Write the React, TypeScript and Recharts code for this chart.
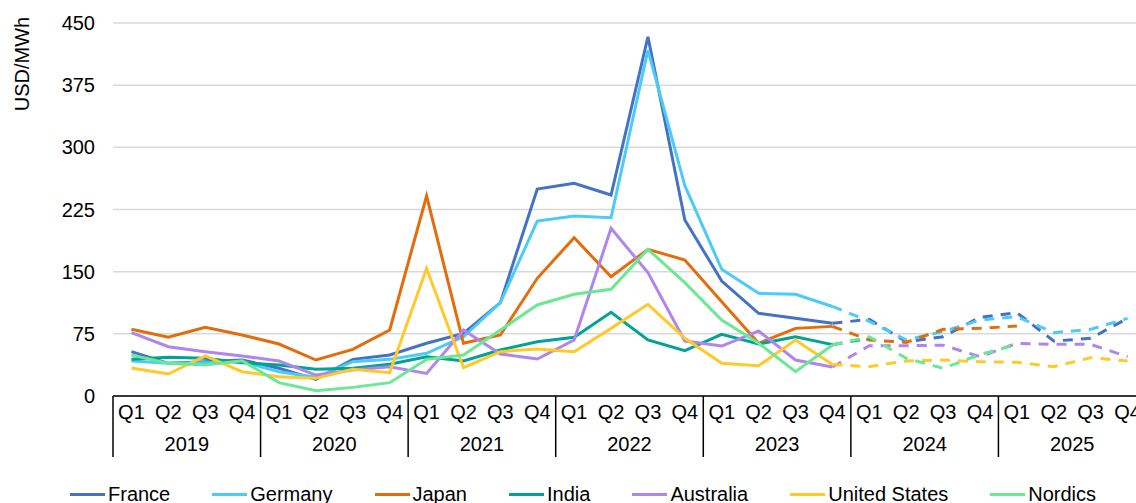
import React from "react";
import { LineChart, Line, CartesianGrid, XAxis, YAxis } from "recharts";

// quarterly wholesale prices, USD/MWh (2024-2025 = forecast)
const years = ["2019", "2020", "2021", "2022", "2023", "2024", "2025"];
const quarters = ["Q1", "Q2", "Q3", "Q4"];
const yTicks = [0, 75, 150, 225, 300, 375, 450];

const france = [53.5, 39.4, 41.4, 43.4, 33.4, 20.1, 44.2, 49.4, 63.6, 75.6, 112.6, 249.7, 256.6, 242.5, 433.4, 212.3, 138.7, 99.8, 93.7, 87.7, 92.5, 65.5, 71.5, 95, 100.5, 66.3, 69.6, 93.7];
const germany = [42.2, 39.4, 40.2, 41.4, 29.3, 22.5, 41.4, 44.2, 51.5, 71.5, 112.6, 211.1, 217.1, 215.1, 417.4, 253.7, 152.8, 123.9, 122.7, 108, 90, 67.6, 77.6, 91.7, 95.7, 76.4, 80.4, 93.7];
const japan = [80.5, 70.8, 82.9, 73.6, 62.7, 43.4, 56.3, 79.6, 241.3, 63.6, 73.6, 142, 191, 143.9, 177, 164.1, 113.8, 63.6, 81.6, 84, 67.6, 64.7, 80.4, 81.6, 84.4, null, null, null];
const india = [44.2, 46.6, 45.4, 40.2, 37.4, 32.2, 33.4, 38.2, 47.4, 42.2, 55.5, 65.5, 70.8, 101, 67.6, 54.6, 74.4, 62.7, 71.5, 62, 69.6, null, null, null, null, null, null, null];
const australia = [76.4, 59.5, 53.5, 48.3, 42.2, 25.3, 31.4, 35.4, 27.3, 79.6, 50.7, 44.6, 67.6, 202.3, 148.8, 66.3, 60.3, 78.4, 43.4, 35, 60.7, 60.7, 61.3, 47.4, 63.6, 62.3, 62.3, 47.4];
const unitedStates = [33.8, 26.5, 48.3, 29.3, 23.3, 21.3, 32.2, 28.1, 154, 34.2, 53.5, 56.7, 53.5, 81.6, 110.6, 69.6, 39.4, 36.6, 67.6, 38, 35.4, 42.2, 43.4, 41.4, 40.6, 35.4, 46.2, 42.2];
const nordics = [49.4, 39.4, 37.4, 42.6, 16.1, 6.4, 10.4, 16.1, 44.2, 49.4, 79.6, 109.8, 122.7, 128.7, 177, 136.7, 91.7, 63.6, 29.3, 61.5, 71.5, 45.4, 33.4, 50, 62, null, null, null];

const lastActual = 19; // 2023 Q4

const series = [
  { name: "France", color: "#4472C4", values: france },
  { name: "Germany", color: "#4BCBF5", values: germany },
  { name: "Japan", color: "#E46C0A", values: japan },
  { name: "India", color: "#00A395", values: india },
  { name: "Australia", color: "#AE86EC", values: australia },
  { name: "United States", color: "#FFCA28", values: unitedStates },
  { name: "Nordics", color: "#6EE794", values: nordics },
];

const data = years.flatMap((yr, yi) =>
  quarters.map((q, qi) => {
    const i = yi * 4 + qi;
    const row: any = { q, year: yr };
    series.forEach((s) => {
      const v = s.values[i];
      row[s.name] = i <= lastActual ? v : null;
      row[s.name + " f"] = i >= lastActual ? v : null;
    });
    return row;
  })
);

const FONT = '"Liberation Sans", Arial, sans-serif';
const W = 1160;
const H = 540;
const Y_W = 113;
const M_RIGHT = 14;
const BAND = (W - Y_W - M_RIGHT) / data.length;

function QuarterTick(props: any) {
  const { x, y, payload, index } = props;
  const first = index % 4 === 0;
  return (
    <g>
      <text x={x} y={y + 23} textAnchor="middle" fontSize={20} fill="#000" fontFamily={FONT}>
        {payload.value}
      </text>
      {first && (
        <>
          <line x1={x - BAND / 2} x2={x - BAND / 2} y1={y} y2={y + 61} stroke="#000" strokeWidth={1.5} />
          <text x={x + BAND * 1.5} y={y + 55} textAnchor="middle" fontSize={20} fill="#000" fontFamily={FONT}>
            {data[index].year}
          </text>
        </>
      )}
    </g>
  );
}

function LegendRow() {
  return (
    <div style={{ position: "absolute", left: 70, top: 484, display: "flex", fontFamily: FONT, fontSize: 20, lineHeight: "20px", color: "#000" }}>
      {series.map((s) => (
        <div key={s.name} style={{ display: "flex", alignItems: "center", marginRight: 42, whiteSpace: "nowrap" }}>
          <span style={{ display: "inline-block", width: 35, height: 3, background: s.color, marginRight: 3 }} />
          <span>{s.name}</span>
        </div>
      ))}
    </div>
  );
}

export default function App() {
  return (
    <div style={{ position: "fixed", left: 0, top: 0, width: 1136, height: 503, overflow: "hidden", background: "#fff" }}>
      <LineChart width={W} height={H} data={data} margin={{ top: 23, right: M_RIGHT, bottom: 82, left: 0 }}>
        <CartesianGrid vertical={false} stroke="#D9D9D9" strokeWidth={1.5} />
        <XAxis
          dataKey="q"
          interval={0}
          height={62}
          padding={{ left: BAND / 2, right: BAND / 2 }}
          tickLine={false}
          tickSize={0}
          tickMargin={0}
          axisLine={{ stroke: "#000", strokeWidth: 1.5 }}
          tick={(p: any) => <QuarterTick {...p} />}
        />
        <YAxis
          width={Y_W}
          domain={[0, 450]}
          ticks={yTicks}
          axisLine={false}
          tickLine={false}
          tickSize={6}
          tickMargin={12}
          tick={{ fontSize: 20, fill: "#000", fontFamily: FONT }}
          label={() => (
            <text x={29} y={64} transform="rotate(-90 29 64)" textAnchor="middle" fontSize={20} fill="#000" fontFamily={FONT}>
              USD/MWh
            </text>
          )}
        />
        {series.map((s) => (
          <Line
            key={s.name}
            dataKey={s.name}
            stroke={s.color}
            strokeWidth={3}
            dot={false}
            type="linear"
            isAnimationActive={false}
          />
        ))}
        {series.map((s) => (
          <Line
            key={s.name + " f"}
            dataKey={s.name + " f"}
            stroke={s.color}
            strokeWidth={3}
            strokeDasharray="10 8"
            dot={false}
            type="linear"
            legendType="none"
            isAnimationActive={false}
          />
        ))}
      </LineChart>
      <LegendRow />
    </div>
  );
}
